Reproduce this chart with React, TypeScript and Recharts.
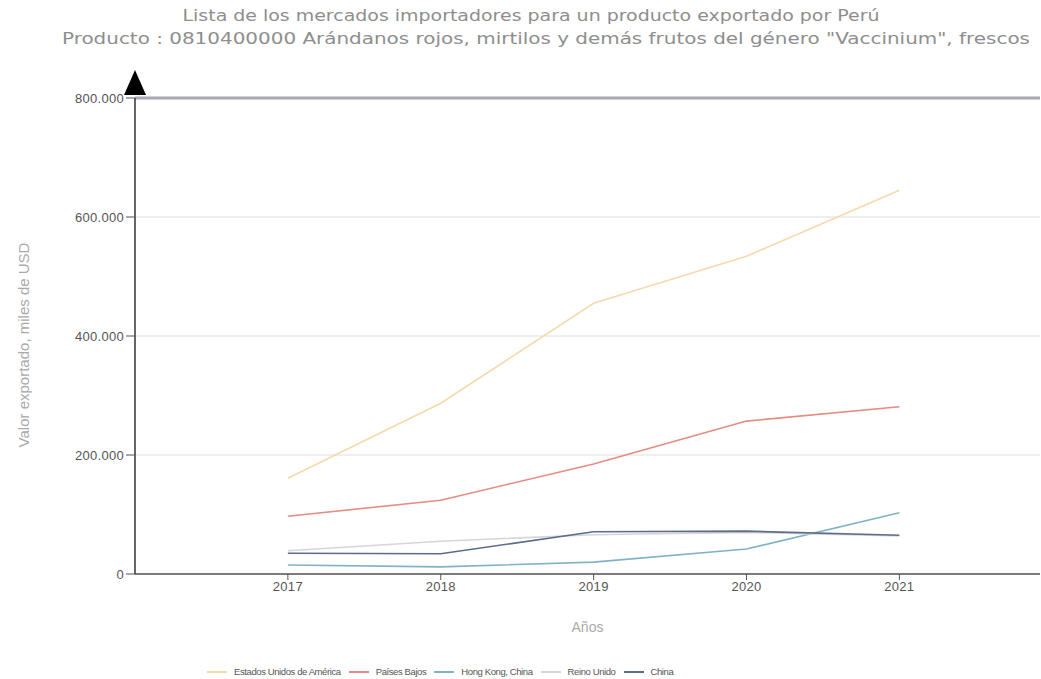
import React from "react";
import {
  LineChart,
  Line,
  XAxis,
  YAxis,
  CartesianGrid,
  ReferenceLine,
  ReferenceDot,
} from "recharts";

const years = [2017, 2018, 2019, 2020, 2021];
const estadosUnidos = [161000, 287000, 455000, 534000, 645000];
const paisesBajos = [97000, 124000, 185000, 257000, 281000];
const hongKong = [15000, 12000, 20000, 42000, 103000];
const reinoUnido = [39000, 55000, 66000, 70000, 64000];
const china = [35000, 34000, 71000, 72000, 65000];
const yTicks = [0, 200000, 400000, 600000, 800000];

const series = [
  { key: "eeuu", name: "Estados Unidos de América", values: estadosUnidos, color: "#f7d9ac" },
  { key: "pb", name: "Países Bajos", values: paisesBajos, color: "#e58c80" },
  { key: "hk", name: "Hong Kong, China", values: hongKong, color: "#7fb2c6" },
  { key: "ru", name: "Reino Unido", values: reinoUnido, color: "#d6d6d6" },
  { key: "cn", name: "China", values: china, color: "#5c6d8c" },
];

const data = years.map((year, i) => {
  const row: Record<string, number> = { year };
  series.forEach((s) => (row[s.key] = s.values[i]));
  return row;
});

const fmt = (n: number) => String(n).replace(/\B(?=(\d{3})+(?!\d))/g, ".");

const tickStyle = {
  fill: "#555",
  fontSize: 13,
  fontFamily: "Liberation Sans Narrow, Liberation Sans, sans-serif",
  letterSpacing: 0.3,
};

const Arrow = ({ cx, cy }: { cx?: number; cy?: number }) => {
  if (cx == null || cy == null) return null;
  return (
    <path
      d={`M${cx - 11},${cy - 3} L${cx},${cy - 28} L${cx + 11},${cy - 3} Z`}
      fill="#000"
    />
  );
};

export default function App() {
  return (
    <div style={{ position: "absolute", left: 0, top: 0, width: 1041, height: 679, background: "#fff" }}>
      <svg width={1041} height={60} style={{ position: "absolute", left: 0, top: 0 }}>
        <text
          x={531}
          y={21}
          textAnchor="middle"
          textLength={697}
          lengthAdjust="spacingAndGlyphs"
          fill="#8e8e8e"
          fontSize={15}
          fontFamily="DejaVu Sans, sans-serif"
        >
          Lista de los mercados importadores para un producto exportado por Perú
        </text>
        <text
          x={546}
          y={44}
          textAnchor="middle"
          textLength={968}
          lengthAdjust="spacingAndGlyphs"
          fill="#8e8e8e"
          fontSize={15}
          fontFamily="DejaVu Sans, sans-serif"
        >
          Producto : 0810400000 Arándanos rojos, mirtilos y demás frutos del género "Vaccinium", frescos
        </text>
      </svg>
      <div style={{ position: "absolute", left: 0, top: 0 }}>
        <LineChart
          width={1041}
          height={679}
          data={data}
          margin={{ top: 98, right: 1, left: 0, bottom: 45 }}
        >
          <CartesianGrid vertical={false} stroke="#dedede" strokeWidth={1} />
          <XAxis
            dataKey="year"
            type="number"
            domain={[2016, 2021.92]}
            ticks={years}
            allowDataOverflow
            height={60}
            tick={tickStyle}
            tickSize={6}
            axisLine={{ stroke: "#555", strokeWidth: 1.5 }}
            tickLine={{ stroke: "#555" }}
            label={{
              value: "Años",
              position: "insideBottom",
              offset: 2,
              fill: "#aaa",
              fontSize: 14,
              fontFamily: "Liberation Sans, sans-serif",
            }}
          />
          <YAxis
            type="number"
            domain={[0, 800000]}
            ticks={yTicks}
            width={135}
            tickFormatter={fmt}
            tick={tickStyle}
            tickSize={9}
            axisLine={{ stroke: "#333", strokeWidth: 1.5 }}
            tickLine={{ stroke: "#555" }}
            label={{
              value: "Valor exportado, miles de USD",
              angle: -90,
              position: "insideLeft",
              offset: 24,
              dy: 9,
              fill: "#aaa",
              fontSize: 15,
              fontFamily: "Liberation Sans, sans-serif",
              style: { textAnchor: "middle" },
            }}
          />
          <ReferenceLine y={800000} stroke="#a8a8b6" strokeWidth={3} />
          {series.map((s) => (
            <Line
              key={s.key}
              type="linear"
              dataKey={s.key}
              name={s.name}
              stroke={s.color}
              strokeWidth={1.6}
              dot={false}
              isAnimationActive={false}
            />
          ))}
          <ReferenceDot x={2016} y={800000} r={0} ifOverflow="visible" shape={<Arrow />} />
        </LineChart>
      </div>
      <div
        style={{
          position: "absolute",
          left: 207,
          top: 666,
          display: "flex",
          alignItems: "center",
          fontFamily: "Liberation Sans Narrow, Liberation Sans, sans-serif",
          fontSize: 9.5,
          letterSpacing: -0.4,
          color: "#555",
          whiteSpace: "nowrap",
        }}
      >
        {series.map((s) => (
          <div key={s.key} style={{ display: "flex", alignItems: "center", marginRight: 8 }}>
            <span style={{ display: "inline-block", width: 20, height: 2, background: s.color, marginRight: 7 }} />
            <span>{s.name}</span>
          </div>
        ))}
      </div>
    </div>
  );
}
